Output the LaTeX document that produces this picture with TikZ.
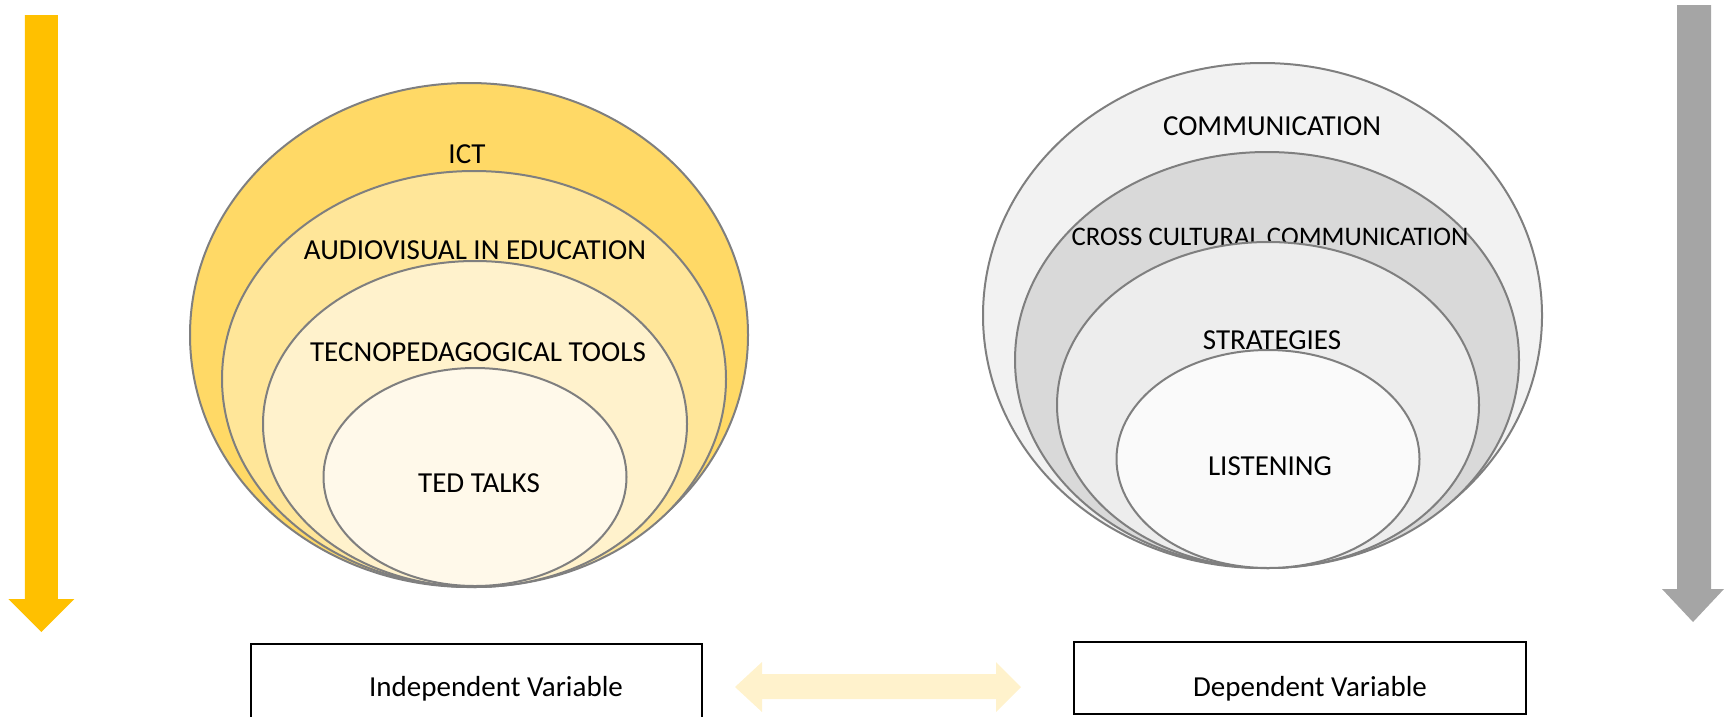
\documentclass[tikz,border=0pt]{standalone}
\usepackage{fontspec}
\setmainfont{Carlito}
\usetikzlibrary{shapes.geometric}
\definecolor{goldarrow}{HTML}{FFC000}
\definecolor{grayarrow}{HTML}{A5A5A5}
\definecolor{ringline}{HTML}{7F7F7F}
\definecolor{yA}{HTML}{FFD966}
\definecolor{yB}{HTML}{FFE699}
\definecolor{yC}{HTML}{FFF2CC}
\definecolor{yD}{HTML}{FFF9EA}
\definecolor{gA}{HTML}{F2F2F2}
\definecolor{gB}{HTML}{D9D9D9}
\definecolor{gC}{HTML}{EDEDED}
\definecolor{gD}{HTML}{FAFAFA}
\definecolor{dbl}{HTML}{FFF2CC}
\begin{document}
\begin{tikzpicture}[x=1pt,y=-1pt,
  ring/.style={ellipse, draw=ringline, line width=2pt, inner sep=0pt},
  lbl/.style={font=\fontsize{29}{34}\selectfont, inner sep=0pt, anchor=base},
  varbox/.style={draw=black, line width=1.3pt}]
\useasboundingbox (0,0) rectangle (1726,716);
% left vertical arrow
\fill[goldarrow] (24.8,15) -- (57.8,15) -- (57.8,599) -- (74.3,599) -- (41.3,632) -- (8.3,599) -- (24.8,599) -- cycle;
% right vertical arrow
\fill[grayarrow] (1677,5) -- (1711,5) -- (1711,589) -- (1724,589) -- (1693,622) -- (1662,589) -- (1677,589) -- cycle;
% left rings
\node[ring, fill=yA, minimum width=558pt, minimum height=504pt] (ict) at (469,335) {};
\node[lbl] (tict) at (467,163) {ICT};
\node[ring, fill=yB, minimum width=504pt, minimum height=416pt] (av) at (474,379) {};
\node[lbl] (tav) at (475,259) {AUDIOVISUAL IN EDUCATION};
\node[ring, fill=yC, minimum width=424pt, minimum height=326pt] (tec) at (475,424) {};
\node[lbl] (ttec) at (478,361) {TECNOPEDAGOGICAL TOOLS};
\node[ring, fill=yD, minimum width=303pt, minimum height=218pt] (ted) at (475,477) {};
\node[lbl] (tted) at (479,492) {TED TALKS};
% right rings
\node[ring, fill=gA, minimum width=559pt, minimum height=505pt] (com) at (1262.5,315.5) {};
\node[lbl] (tcom) at (1272,135) {COMMUNICATION};
\node[ring, fill=gB, minimum width=504pt, minimum height=416pt] (ccc) at (1267,360) {};
\node[lbl, font=\fontsize{26.8}{32}\selectfont] (tccc) at (1270,245) {CROSS CULTURAL COMMUNICATION};
\node[ring, fill=gC, minimum width=422pt, minimum height=326pt] (str) at (1268,405) {};
\node[lbl] (tstr) at (1272,349) {STRATEGIES};
\node[ring, fill=gD, minimum width=303pt, minimum height=218pt] (lis) at (1268,459) {};
\node[lbl] (tlis) at (1270,475) {LISTENING};
% boxes
\draw[varbox] (251,644) rectangle (702,719);
\node[lbl] (tind) at (496,696) {Independent Variable};
\draw[varbox] (1074,642) rectangle (1526,714);
\node[lbl] (tdep) at (1310,696) {Dependent Variable};
% double arrow
\fill[dbl] (735,687) -- (762,662) -- (762,674) -- (996,674) -- (996,662) -- (1021,687) -- (996,712) -- (996,699) -- (762,699) -- (762,712) -- cycle;
\end{tikzpicture}
\end{document}
